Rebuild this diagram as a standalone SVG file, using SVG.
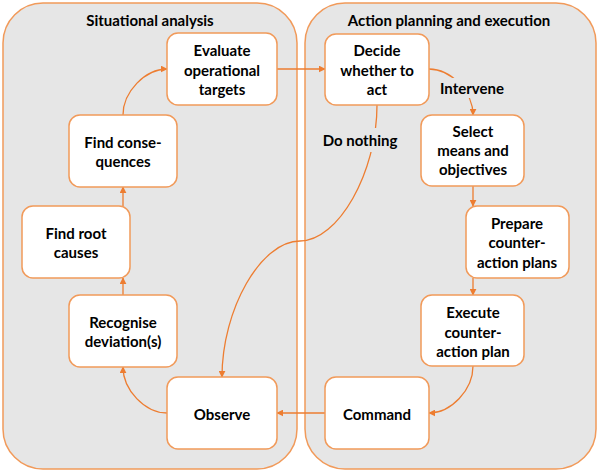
<svg xmlns="http://www.w3.org/2000/svg" width="600" height="473" viewBox="0 0 600 473">
<defs>
<marker id="arr" viewBox="0 0 10 10" refX="9" refY="5" markerWidth="7" markerHeight="7" markerUnits="userSpaceOnUse" orient="auto">
<path d="M0,0 L10,5 L0,10 z" fill="#ED7D31"/>
</marker>
<style>
.panel{fill:#E6E6E6;stroke:#F19A5A;stroke-width:1.5}
.box{fill:#FFFFFF;stroke:#F19A5A;stroke-width:1.5}
.t{font-family:Lato,"Open Sans","Liberation Sans",sans-serif;font-weight:bold;font-size:15px;fill:#000;text-anchor:middle;dominant-baseline:central}
.c{fill:none;stroke:#ED7D31;stroke-width:1.3;marker-end:url(#arr)}
.cn{fill:none;stroke:#ED7D31;stroke-width:1.3}
.lbg{fill:#E6E6E6}
</style>
</defs>
<g id="panel-situational">
<rect class="panel" x="3" y="3" width="294" height="466" rx="40"/>
<text class="t" x="150" y="20">Situational analysis</text>
</g>
<g id="panel-action">
<rect class="panel" x="305" y="3" width="291" height="466" rx="40"/>
<text class="t" x="449" y="20">Action planning and execution</text>
</g>
<g id="connectors">
<path class="c" d="M277,69 L325,69"/>
<path class="c" d="M429,69 C451,69 473,92 473,115"/>
<path class="c" d="M377,105 C377,173 338,241 300,241 C261,241 222,309 222,377"/>
<path class="c" d="M473,185 L473,206"/>
<path class="c" d="M473,278 L473,295"/>
<path class="c" d="M473,366 C473,390 451,413 429,413"/>
<path class="c" d="M325,413 L277,413"/>
<path class="c" d="M167,413 C145,413 123,390 123,367"/>
<path class="c" d="M123,295 L123,278"/>
<path class="c" d="M123,206 L123,187"/>
<path class="c" d="M123,115 C123,92 145,69 167,69"/>
<rect class="lbg" x="438" y="78" width="68" height="20"/>
<text class="t" x="472" y="88">Intervene</text>
<rect class="lbg" x="321" y="128" width="78" height="24"/>
<text class="t" x="360" y="140">Do nothing</text>
</g>
<g id="evaluate">
<rect class="box" x="167" y="33" width="110" height="72" rx="11"/>
<text class="t" x="222" y="50">Evaluate</text>
<text class="t" x="222" y="69.5">operational</text>
<text class="t" x="222" y="89">targets</text>
</g>
<g id="consequences">
<rect class="box" x="69" y="115" width="108" height="72" rx="11"/>
<text class="t" x="123" y="142">Find conse-</text>
<text class="t" x="123" y="161">quences</text>
</g>
<g id="rootcauses">
<rect class="box" x="22" y="206" width="108" height="72" rx="11"/>
<text class="t" x="76" y="233">Find root</text>
<text class="t" x="76" y="252">causes</text>
</g>
<g id="recognise">
<rect class="box" x="69" y="295" width="108" height="72" rx="11"/>
<text class="t" x="123" y="322">Recognise</text>
<text class="t" x="123" y="341">deviation(s)</text>
</g>
<g id="observe">
<rect class="box" x="167" y="377" width="110" height="72" rx="11"/>
<text class="t" x="222" y="414">Observe</text>
</g>
<g id="decide">
<rect class="box" x="325" y="34" width="104" height="71" rx="11"/>
<text class="t" x="377" y="50">Decide</text>
<text class="t" x="377" y="69.5">whether to</text>
<text class="t" x="377" y="89">act</text>
</g>
<g id="select">
<rect class="box" x="421" y="115" width="103" height="71" rx="11"/>
<text class="t" x="473" y="131">Select</text>
<text class="t" x="473" y="150">means and</text>
<text class="t" x="473" y="169">objectives</text>
</g>
<g id="prepare">
<rect class="box" x="466" y="206" width="103" height="72" rx="11"/>
<text class="t" x="517" y="223">Prepare</text>
<text class="t" x="517" y="242">counter-</text>
<text class="t" x="517" y="262">action plans</text>
</g>
<g id="execute">
<rect class="box" x="421" y="295" width="103" height="71" rx="11"/>
<text class="t" x="473" y="312">Execute</text>
<text class="t" x="473" y="331.5">counter-</text>
<text class="t" x="473" y="351">action plan</text>
</g>
<g id="command">
<rect class="box" x="325" y="377" width="104" height="72" rx="11"/>
<text class="t" x="377" y="414">Command</text>
</g>
</svg>
